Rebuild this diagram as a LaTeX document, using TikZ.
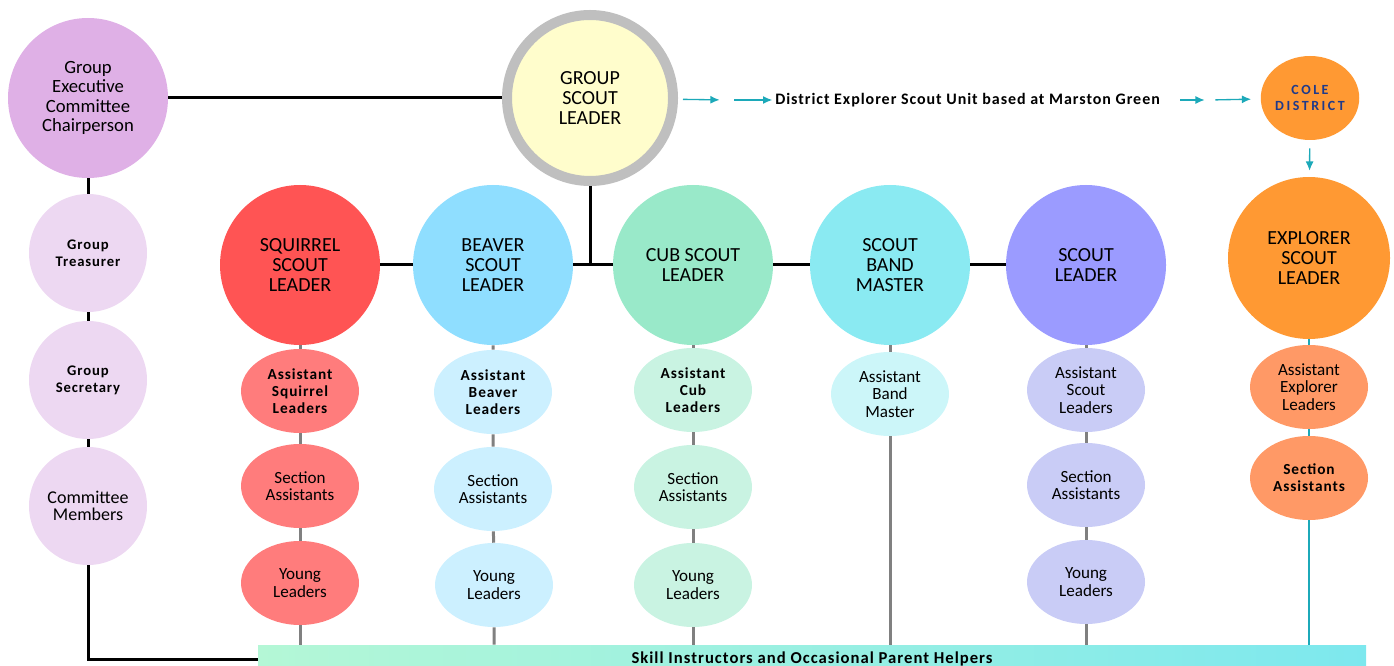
\documentclass[tikz,border=0pt]{standalone}
\usepackage{fontspec}
\setmainfont{Carlito}
\newfontfamily\spaced[LetterSpace=6]{Carlito}
\newfontfamily\widespaced[LetterSpace=18]{Carlito}
\usepackage{tikz}
\usetikzlibrary{arrows.meta,shapes.geometric}

\definecolor{chairC}{HTML}{DFB0E6}
\definecolor{groupC}{HTML}{EDD8F2}
\definecolor{gslC}{HTML}{FFFDCC}
\definecolor{ringC}{HTML}{BFBFBF}
\definecolor{squirrelC}{HTML}{FF5454}
\definecolor{squirrelSub}{HTML}{FF7C7C}
\definecolor{beaverC}{HTML}{8FDEFF}
\definecolor{beaverSub}{HTML}{CCF0FF}
\definecolor{cubC}{HTML}{99E9C9}
\definecolor{cubSub}{HTML}{C9F3E2}
\definecolor{bandC}{HTML}{8AEAF2}
\definecolor{bandSub}{HTML}{CCF6F9}
\definecolor{scoutC}{HTML}{9B9BFF}
\definecolor{scoutSub}{HTML}{C9CCF6}
\definecolor{explorerC}{HTML}{FF9933}
\definecolor{explorerSub}{HTML}{FF9966}
\definecolor{tealC}{HTML}{1CA9B9}
\definecolor{coleText}{HTML}{1F3A8A}
\definecolor{barL}{HTML}{B4F7D6}
\definecolor{barR}{HTML}{7DE8EE}

\begin{document}
\begin{tikzpicture}[x=0.75pt,y=-0.75pt,
  bigrole/.style={circle,minimum size=120pt,inner sep=0pt,align=center,
    font=\fontsize{15}{15}\selectfont},
  subrole/.style={ellipse,minimum width=88.5pt,minimum height=63pt,inner sep=0pt,
    align=center,font=\fontsize{12.8}{13}\selectfont},
  boldsub/.style={subrole,font=\fontsize{11.5}{12.8}\spaced\bfseries},
  grouprole/.style={circle,minimum size=88.5pt,inner sep=0pt,align=center,fill=groupC,
    font=\fontsize{11}{12.8}\spaced\bfseries},
  blackline/.style={line width=2.25pt,black},
  greyline/.style={line width=2.25pt,black!50},
  tealline/.style={line width=1pt,tealC},
  tealarrow/.style={line width=1pt,tealC,-{Latex[length=7pt,width=6pt]}}]
 \useasboundingbox (0,0) rectangle (1394,666);

  \draw (88,98) node[circle,minimum size=120pt,inner sep=0pt,align=center,fill=chairC,
     font=\fontsize{14}{14.6}\selectfont] (chair) {Group\\Executive\\Committee\\Chairperson};
  \draw (88,253) node[grouprole] (treasurer) {Group\\Treasurer};
  \draw (88,380) node[grouprole] (secretary) {Group\\Secretary};
  \draw (88,506) node[grouprole,font=\fontsize{13.5}{13}\selectfont] (members) {Committee\\Members};

  \draw (590,98) node[circle,minimum size=124.5pt,inner sep=0pt,align=center,fill=gslC,
     draw=ringC,line width=7.5pt,font=\fontsize{15}{15}\selectfont] (gsl) {GROUP\\SCOUT\\LEADER};
    \draw (775,100) node[anchor=west,inner sep=0pt,font=\fontsize{12}{12}\spaced\bfseries] (district)
       {District Explorer Scout Unit based at Marston Green};
    \draw (1310,98) node[ellipse,minimum width=73.5pt,minimum height=63pt,inner sep=0pt,
       fill=explorerC,align=center,text=coleText,font=\fontsize{10.5}{12.5}\widespaced\bfseries] (cole)
       {COLE\\DISTRICT};
  \coordinate (gmid) at (727,100);
  \coordinate (cmid) at (1210,100);

  \draw (300,265) node[bigrole,fill=squirrelC] (squirrel) {SQUIRREL\\SCOUT\\LEADER};
  \draw (493,265) node[bigrole,fill=beaverC] (beaver) {BEAVER\\SCOUT\\LEADER};
  \draw (693,265) node[bigrole,fill=cubC] (cub) {CUB SCOUT\\LEADER};
  \draw (890,265) node[bigrole,fill=bandC] (band) {SCOUT\\BAND\\MASTER};
  \draw (1086,265) node[bigrole,fill=scoutC] (scoutL) {SCOUT\\LEADER};
  \draw (1309,258) node[circle,minimum size=121.5pt,inner sep=0pt,align=center,fill=explorerC,
     font=\fontsize{15}{15}\selectfont] (explorer) {EXPLORER\\SCOUT\\LEADER};

  \draw (300,391) node[boldsub,fill=squirrelSub] (sqAsst) {Assistant\\Squirrel\\Leaders};
  \draw (300,486) node[subrole,fill=squirrelSub] (sqSect) {Section\\Assistants};
  \draw (300,583) node[subrole,fill=squirrelSub] (sqYoung) {Young\\Leaders};

  \draw (493,392) node[boldsub,fill=beaverSub] (bvAsst) {Assistant\\Beaver\\Leaders};
  \draw (493,489) node[subrole,fill=beaverSub] (bvSect) {Section\\Assistants};
  \draw (494,585) node[subrole,fill=beaverSub] (bvYoung) {Young\\Leaders};

  \draw (693,390) node[boldsub,fill=cubSub] (cbAsst) {Assistant\\Cub\\Leaders};
  \draw (693,487) node[subrole,fill=cubSub] (cbSect) {Section\\Assistants};
  \draw (693,585) node[subrole,fill=cubSub] (cbYoung) {Young\\Leaders};

  \draw (890,394) node[subrole,fill=bandSub] (bdAsst) {Assistant\\Band\\Master};

  \draw (1086,390) node[subrole,fill=scoutSub] (scAsst) {Assistant\\Scout\\Leaders};
  \draw (1086,485) node[subrole,fill=scoutSub] (scSect) {Section\\Assistants};
  \draw (1086,582) node[subrole,fill=scoutSub] (scYoung) {Young\\Leaders};

  \draw (1309,387) node[subrole,fill=explorerSub] (exAsst) {Assistant\\Explorer\\Leaders};
  \draw (1309,478) node[boldsub,fill=explorerSub] (exSect) {Section\\Assistants};

  \draw (812,659) node[minimum width=831pt,minimum height=21pt,inner sep=0pt,
     left color=barL,right color=barR,font=\fontsize{12.5}{12}\spaced\bfseries] (bar)
     {Skill Instructors and Occasional Parent Helpers};

     \path[blackline] (chair) edge (gsl);
     \draw[blackline] (chair) -- (treasurer) -- (secretary) -- (members) |- (bar.west);
     \draw[blackline] (squirrel) -- (beaver) -- (cub) -- (band) -- (scoutL);
     \draw[blackline] (gsl) -- (gsl |- beaver.center);

     \draw[greyline] (squirrel) -- (sqAsst) -- (sqSect) -- (sqYoung) -- (sqYoung |- bar.north);
     \draw[greyline] (beaver) -- (bvAsst) -- (bvSect) -- (bvYoung) -- (bvYoung |- bar.north);
     \draw[greyline] (cub) -- (cbAsst) -- (cbSect) -- (cbYoung) -- (cbYoung |- bar.north);
     \draw[greyline] (band) -- (bdAsst) -- (bdAsst |- bar.north);
     \draw[greyline] (scoutL) -- (scAsst) -- (scSect) -- (scYoung) -- (scYoung |- bar.north);
     \draw[tealline] (explorer) -- (exAsst) -- (exSect) -- (exSect |- bar.north);

     \draw[tealarrow,shorten <=3.75pt,shorten >=5.5pt] (gsl) -- (gmid);
     \draw[tealarrow,shorten <=5.5pt,shorten >=2pt] (gmid) -- (district);
     \draw[tealarrow,shorten <=15pt,shorten >=4pt] (district) -- (cmid);
     \draw[tealarrow,shorten <=4pt,shorten >=7pt] (cmid) -- (cole);
     \draw[tealarrow,shorten <=6pt,shorten >=4.5pt] (cole) -- (explorer);
\end{tikzpicture}
\end{document}
